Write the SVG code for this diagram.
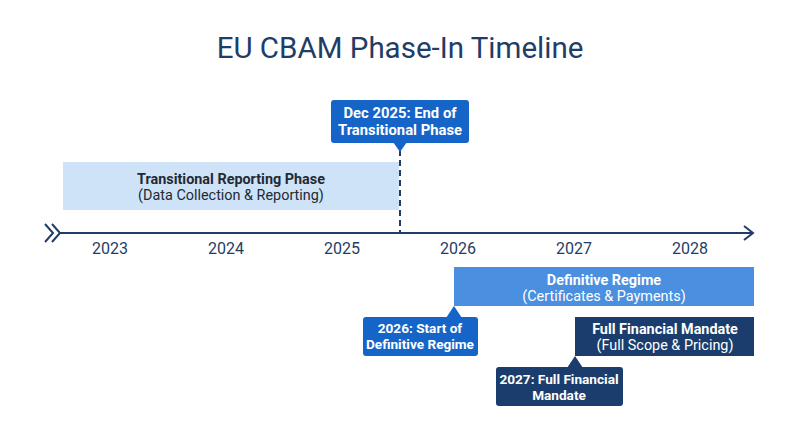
<svg xmlns="http://www.w3.org/2000/svg" width="800" height="447" viewBox="0 0 800 447">
<style>
text{font-family:Roboto,"Liberation Sans",sans-serif;}
.title{font-size:29.5px;fill:#1f3d66;text-anchor:middle;}
.year{font-size:16px;fill:#1f3d66;text-anchor:middle;}
.b{font-weight:bold;font-size:14.4px;text-anchor:middle;}
.r{font-size:14.4px;text-anchor:middle;}
.c{font-weight:bold;font-size:13.6px;text-anchor:middle;fill:#ffffff;}
.c2{font-weight:bold;font-size:14.8px;text-anchor:middle;fill:#ffffff;}
.w{fill:#ffffff;}
.d{fill:#222a33;}
.axis{stroke:#1f3d66;stroke-width:2;fill:none;}
</style>
<rect width="800" height="447" fill="#ffffff"/>
<text class="title" x="400" y="58">EU CBAM Phase-In Timeline</text>
<g id="connectors">
<line class="axis" x1="60" y1="233" x2="752" y2="233"/>
<polyline class="axis" points="45,224 53,233 45,242"/>
<polyline class="axis" points="52,224 60,233 52,242"/>
<polyline class="axis" points="744,226 753,233 744,240"/>
<line x1="400" y1="150" x2="400" y2="233" stroke="#1f3d66" stroke-width="2" stroke-dasharray="6,4"/>
</g>
<g id="years">
<text class="year" x="110" y="254">2023</text>
<text class="year" x="226" y="254">2024</text>
<text class="year" x="342" y="254">2025</text>
<text class="year" x="458" y="254">2026</text>
<text class="year" x="574" y="254">2027</text>
<text class="year" x="690" y="254">2028</text>
</g>
<g id="transitional-phase">
<rect x="63" y="162" width="336" height="48" fill="#cfe3f8"/>
<text class="b d" x="231" y="184">Transitional Reporting Phase</text>
<text class="r d" x="231" y="200">(Data Collection &amp; Reporting)</text>
</g>
<g id="callout-dec2025">
<rect x="331" y="100" width="138" height="43" rx="3" fill="#1565c8"/>
<polygon points="393,142 407,142 400,152" fill="#1565c8"/>
<text class="c2" x="400" y="118">Dec 2025: End of</text>
<text class="c2" x="400" y="135">Transitional Phase</text>
</g>
<g id="definitive-regime">
<rect x="454" y="267" width="300" height="39" fill="#4a8fe0"/>
<text class="b w" x="604" y="285">Definitive Regime</text>
<text class="r w" x="604" y="301">(Certificates &amp; Payments)</text>
</g>
<g id="callout-2026">
<rect x="363" y="317" width="115" height="39" rx="3" fill="#1565c8"/>
<polygon points="446,318 462,318 454,306" fill="#1565c8"/>
<text class="c" x="420" y="333">2026: Start of</text>
<text class="c" x="420" y="349">Definitive Regime</text>
</g>
<g id="full-financial-mandate">
<rect x="575" y="317" width="179" height="39" fill="#1b3d6d"/>
<text class="b w" x="665" y="334">Full Financial Mandate</text>
<text class="r w" x="665" y="350">(Full Scope &amp; Pricing)</text>
</g>
<g id="callout-2027">
<rect x="496" y="367" width="127" height="39" rx="3" fill="#1b3d6d"/>
<polygon points="567,368 583,368 575,356" fill="#1b3d6d"/>
<text class="c" x="559" y="384">2027: Full Financial</text>
<text class="c" x="559" y="400">Mandate</text>
</g>
</svg>
